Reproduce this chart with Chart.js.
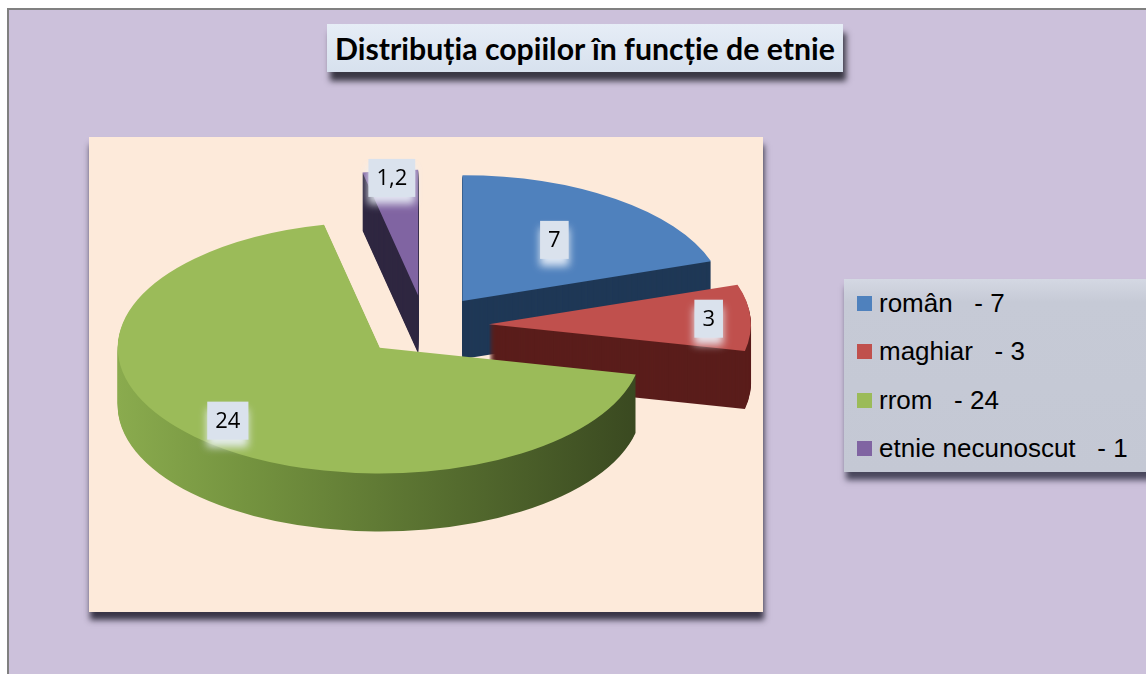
<!DOCTYPE html>
<html>

<head>
  <meta charset="UTF-8">
  <title>Distribuția copiilor în funcție de etnie</title>
</head>

<body>

<style type="text/css">
  body {
    margin: 0;
    width: 1146px;
    height: 674px;
    overflow: hidden;
    position: relative;
    background: #ffffff;
  }
  .frame {
    position: absolute;
    left: 7px;
    top: 8px;
    width: 1139px;
    height: 666px;
    box-sizing: border-box;
    background: #ccc1db;
    border-left: 2px solid #808080;
    border-top: 2px solid #808080;
  }
  .plotBox {
    position: absolute;
    left: 89px;
    top: 137px;
    width: 674px;
    height: 475px;
    background: #fdeada;
    box-shadow: 1px 8px 6px rgba(30, 28, 45, 0.85);
  }
  .titleBox {
    position: absolute;
    left: 327px;
    top: 24px;
    width: 516px;
    height: 48px;
    background: linear-gradient(#e6edf6, #d7e1ee);
    box-shadow: 3px 9px 6px rgba(20, 20, 30, 0.8);
    display: flex;
    align-items: center;
    justify-content: center;
  }
  #titleText {
    font-family: Lato, 'Open Sans', sans-serif;
    font-weight: bold;
    font-size: 25px;
    color: #000;
    white-space: nowrap;
  }
  .legendBox {
    position: absolute;
    left: 844px;
    top: 279px;
    width: 320px;
    height: 193px;
    background: linear-gradient(#d4d8e3, #c6cad6 12%, #c4c8d4);
    box-shadow: 2px 8px 6px rgba(40, 40, 60, 0.8);
  }
  .legendItem {
    height: 48.5px;
    display: flex;
    align-items: center;
    font-family: 'Liberation Sans', Arial, sans-serif;
    font-size: 26px;
    color: #000;
    white-space: pre;
  }
  .legendItem span.box {
    display: inline-block;
    width: 15px;
    height: 15px;
    margin-left: 13px;
    margin-right: 7px;
  }
  #myChart {
    position: absolute;
    left: 0;
    top: 0;
  }
</style>

<script src="https://cdn.jsdelivr.net/npm/chart.js@4.4.1/dist/chart.umd.min.js"></script>

<div class="frame"></div>
<div class="plotBox"></div>
<div class="titleBox"><span id="titleText">Distribuția copiilor în funcție de etnie</span></div>
<div class="legendBox" id="legend"></div>
<canvas id="myChart" width="1146" height="674"></canvas>

<script>
const categories = ['român', 'maghiar', 'rrom', 'etnie necunoscut'];
const values = [7, 3, 24, 1.2];
const legendCounts = ['- 7', '- 3', '- 24', '- 1'];

const topColors = ['#4f81bd', '#c0504d', '#9bbb59', '#8064a2'];
const wallColors = ['#1f3856', '#5a1d1b', null, '#2f2741'];
// where each value label sits, as a fraction of the radius
const labelReach = [0.6, 0.84, 0.82, 0.94];

// legend
const legend = document.getElementById('legend');
categories.forEach((c, i) => {
  const row = document.createElement('div');
  row.className = 'legendItem';
  row.innerHTML = '<span class="box" style="background:' + topColors[i] + '"></span>' + c + '   ' + legendCounts[i];
  legend.appendChild(row);
});

// fit title to the width used in the picture
const t = document.getElementById('titleText');
t.style.fontSize = (25 * 500 / t.offsetWidth) + 'px';

const tilt = 0.48;
const depth = 58;
const pull = 64;

function squash(ctx, cy) {
  ctx.translate(0, cy * (1 - tilt));
  ctx.scale(1, tilt);
}

function pullOut(ctx, arc) {
  const mid = (arc.startAngle + arc.endAngle) / 2;
  ctx.translate(Math.cos(mid) * pull, Math.sin(mid) * pull);
}

const pie3d = {
  id: 'pie3d',
  beforeDatasetsDraw(chart) {
    const ctx = chart.ctx;
    const arcs = chart.getDatasetMeta(0).data;
    const cy = arcs[0].y;

    // side walls, stacked from the bottom up
    for (let d = depth; d >= 1; d--) {
      arcs.forEach((arc, i) => {
        ctx.save();
        ctx.translate(0, d);
        squash(ctx, cy);
        pullOut(ctx, arc);
        let fill = wallColors[i];
        if (!fill) {
          const r = arc.outerRadius;
          const g = ctx.createLinearGradient(arc.x - r, 0, arc.x + r, 0);
          g.addColorStop(0, '#8aab4e');
          g.addColorStop(0.25, '#74933f');
          g.addColorStop(0.65, '#546b2e');
          g.addColorStop(1, '#394820');
          fill = g;
        }
        ctx.beginPath();
        ctx.moveTo(arc.x, arc.y);
        ctx.arc(arc.x, arc.y, arc.outerRadius, arc.startAngle, arc.endAngle);
        ctx.closePath();
        ctx.fillStyle = fill;
        ctx.fill();
        ctx.restore();
      });
    }

    // top faces
    arcs.forEach(arc => {
      ctx.save();
      squash(ctx, cy);
      pullOut(ctx, arc);
      arc.draw(ctx);
      ctx.restore();
    });
    return false;
  },
  afterDraw(chart) {
    const ctx = chart.ctx;
    const arcs = chart.getDatasetMeta(0).data;
    const cy = arcs[0].y;
    ctx.save();
    ctx.font = "22px 'Open Sans'";
    ctx.textAlign = 'center';
    ctx.textBaseline = 'middle';
    arcs.forEach((arc, i) => {
      const mid = (arc.startAngle + arc.endAngle) / 2;
      const reach = pull + labelReach[i] * arc.outerRadius;
      const x = arc.x + Math.cos(mid) * reach;
      const y = cy + tilt * (arc.y + Math.sin(mid) * reach - cy);
      const text = String(values[i]).replace('.', ',');
      const w = ctx.measureText(text).width + 16;
      const h = 38;
      ctx.save();
      ctx.shadowColor = 'rgba(236, 242, 250, 0.9)';
      ctx.shadowBlur = 8;
      ctx.shadowOffsetY = 7;
      ctx.fillStyle = '#dae2ed';
      ctx.fillRect(x - w / 2, y - h / 2, w, h);
      ctx.restore();
      ctx.fillStyle = '#000';
      ctx.fillText(text, x, y + 1);
    });
    ctx.restore();
  }
};

const ctx = document.getElementById('myChart').getContext('2d');
const myChart = new Chart(ctx, {
  type: 'pie',
  data: {
    labels: categories,
    datasets: [{
      data: values,
      backgroundColor: topColors,
      borderWidth: 0,
      radius: 262,
      clip: false
    }]
  },
  options: {
    responsive: false,
    animation: false,
    events: [],
    layout: {
      padding: {left: 100, right: 396, top: 158, bottom: 180}
    },
    plugins: {
      legend: {display: false},
      tooltip: {enabled: false}
    }
  },
  plugins: [pie3d]
});
</script>

</body>
</html>
